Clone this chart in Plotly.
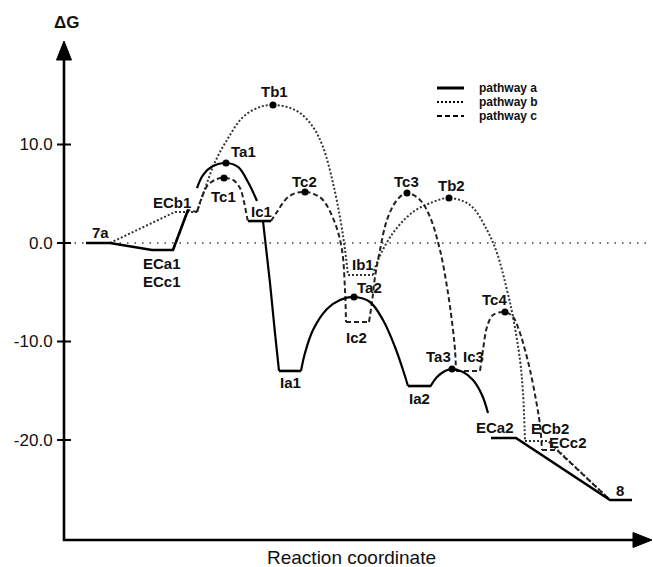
import plotly.graph_objects as go

# ---------------- data (reaction coordinate position, ΔG) ----------------
# pathway a (solid): straight parts and curved parts (None = break)
A_LIN_X = [86, 110, 152, 173, 188, None, 248, 271, None, 279, 301, None, 408, 430, None, 491, 516, 610, 632]
A_LIN_G = [0, 0, -0.71, -0.71, 3.35, None, 2.23, 2.23, None, -12.99, -12.99, None, -14.52, -14.52, None, -19.80, -19.80, -26.09, -26.09]
A_CURVE_X = [197, 203, 213, 226, 238, 248, 257, None,
             263, 270, 275, 279, None,
             301, 305, 313, 327, 340, 354, 370, 383, 395, 403, 408, None,
             430, 437, 445, 452, 463, 473, 482, 488]
A_CURVE_G = [5.58, 6.90, 7.82, 8.12, 7.72, 6.19, 4.26, None,
             2.23, -4.06, -9.14, -12.99, None,
             -12.99, -11.17, -8.83, -6.70, -5.79, -5.48, -5.99, -7.82, -10.56, -12.89, -14.52, None,
             -14.62, -13.60, -12.99, -12.79, -13.10, -13.91, -15.43, -17.26]

# pathway b (dotted)
B_LIN_X = [110, 175, 197, None, 348, 373, None, 525, 548, 610]
B_LIN_G = [0, 3.15, 3.15, None, -3.25, -3.25, None, -20.10, -20.10, -26.09]
B_CURVE_X = [197, 201, 207, 215, 227, 243, 260, 273, 287, 300, 313, 323, 333, 341, 345, 348, None,
             373, 378, 393, 413, 433, 449, 470, 487, 497, 507, 513, 520, 523, 525]
B_CURVE_G = [3.15, 4.37, 6.09, 8.22, 10.46, 12.79, 13.81, 14.01, 13.81, 13.20, 11.78, 9.75, 6.09, 2.03, -0.71, -3.25, None,
             -3.25, -1.73, 1.02, 3.15, 4.16, 4.57, 3.86, 1.32, -1.02, -4.77, -7.51, -11.88, -15.23, -20.10]

# pathway c (dashed)
C_LIN_X = [173, 188, 197, None, 248, 271, None, 346, 369, None, 456, 480, None, 542, 557, 610]
C_LIN_G = [-0.71, 3.35, 3.15, None, 2.23, 2.23, None, -8.02, -8.02, None, -12.99, -12.99, None, -21.02, -21.02, -26.09]
C_CURVE_X = [197, 202, 208, 217, 224, 233, 240, 244, 247, 248, None,
             271, 277, 287, 296, 305, 314, 323, 335, 342, 345, 346, None,
             369, 372, 375, 380, 387, 397, 407, 420, 430, 440, 448, 453, 455, 456, None,
             480, 483, 487, 493, 505, 513, 520, 525, 530, 536, 540, 542]
C_CURVE_G = [3.15, 4.67, 5.89, 6.50, 6.60, 6.40, 5.58, 4.16, 2.64, 2.13, None,
             2.23, 3.15, 4.57, 5.08, 5.18, 4.97, 4.37, 2.03, -0.71, -4.77, -8.02, None,
             -8.02, -5.99, -3.45, -0.71, 2.34, 4.37, 5.08, 4.37, 2.64, -0.71, -5.08, -8.83, -10.86, -12.99, None,
             -12.99, -10.86, -8.53, -7.31, -7.01, -7.51, -9.14, -10.86, -12.89, -15.94, -18.48, -21.02]

# transition states (dots)
TS_X = [226, 273, 224, 305, 354, 407, 449, 452, 505]
TS_G = [8.12, 14.01, 6.60, 5.18, -5.48, 5.08, 4.57, -12.79, -7.01]

# state labels
LABEL_TEXT = ["7a", "ECa1", "ECc1", "ECb1", "Tb1", "Ta1", "Tc1", "Ic1", "Tc2", "Ia1", "Ib1", "Ta2",
              "Ic2", "Tc3", "Tb2", "Ta3", "Ic3", "Ia2", "Tc4", "ECa2", "ECb2", "ECc2", "8"]
LABEL_X = [100, 162, 162, 172, 274, 243, 223, 261, 304, 290, 363, 369,
           356, 406, 451, 438, 473, 419, 494, 495, 550, 568, 620]
LABEL_G = [1.02, -2.03, -3.86, 4.16, 15.43, 9.34, 4.77, 3.15, 6.29, -14.21, -2.23, -4.47,
           -9.64, 6.29, 5.79, -11.57, -11.57, -15.74, -5.69, -18.78, -18.88, -20.30, -25.08]

Y_TICKS = [10, 0, -10, -20]
Y_TICK_TEXT = ["10.0", "0.0", "-10.0", "-20.0"]
LEGEND_TEXT = ["pathway a", "pathway b", "pathway c"]

# ---------------- layout helpers ----------------
W, H = 653, 567
ML, MR, MT, MB = 64, 2, 42, 27
PW, PH = W - ML - MR, H - MT - MB


def px(x):
    return (x - ML) / PW


def py(y):
    return (H - MB - y) / PH


FONT = "Liberation Sans, Arial, sans-serif"
DOT = "2px,2px"
DASH = "5px,3px"

fig = go.Figure()

fig.add_trace(go.Scatter(x=B_LIN_X, y=B_LIN_G, mode="lines", connectgaps=False,
                         line=dict(color="#333", width=2, dash=DOT), hoverinfo="skip"))
fig.add_trace(go.Scatter(x=B_CURVE_X, y=B_CURVE_G, mode="lines", connectgaps=False,
                         line=dict(color="#333", width=2, dash=DOT, shape="spline"), hoverinfo="skip"))
fig.add_trace(go.Scatter(x=C_LIN_X, y=C_LIN_G, mode="lines", connectgaps=False,
                         line=dict(color="#222", width=2, dash=DASH), hoverinfo="skip"))
fig.add_trace(go.Scatter(x=C_CURVE_X, y=C_CURVE_G, mode="lines", connectgaps=False,
                         line=dict(color="#222", width=2, dash=DASH, shape="spline"), hoverinfo="skip"))
fig.add_trace(go.Scatter(x=A_LIN_X, y=A_LIN_G, mode="lines", connectgaps=False,
                         line=dict(color="black", width=2.6), hoverinfo="skip"))
fig.add_trace(go.Scatter(x=A_CURVE_X, y=A_CURVE_G, mode="lines", connectgaps=False,
                         line=dict(color="black", width=2.2, shape="spline"), hoverinfo="skip"))
fig.add_trace(go.Scatter(x=TS_X, y=TS_G, mode="markers",
                         marker=dict(color="black", size=7), hoverinfo="skip"))

annotations = []
for t, x, g in zip(LABEL_TEXT, LABEL_X, LABEL_G):
    annotations.append(dict(x=x, y=g, xref="x", yref="y", text="<b>%s</b>" % t, showarrow=False,
                            font=dict(family=FONT, size=15, color="#111"), xanchor="center", yanchor="middle"))

annotations.append(dict(x=px(66), y=py(23), xref="paper", yref="paper", text="<b>ΔG</b>", showarrow=False,
                        font=dict(family=FONT, size=17, color="#111"), xanchor="center", yanchor="middle"))
annotations.append(dict(x=px(351), y=py(557), xref="paper", yref="paper", text="Reaction coordinate",
                        showarrow=False, font=dict(family=FONT, size=19, color="#111"),
                        xanchor="center", yanchor="middle"))

legend_y = [88, 102, 116]
legend_dash = ["solid", DOT, DASH]
legend_w = [3, 2, 2]
shapes = []
for t, yy, d, lw in zip(LEGEND_TEXT, legend_y, legend_dash, legend_w):
    annotations.append(dict(x=px(477), y=py(yy), xref="paper", yref="paper", text="<b>%s</b>" % t,
                            showarrow=False, font=dict(family=FONT, size=12, color="#111"),
                            xanchor="left", yanchor="middle"))
    shapes.append(dict(type="line", xref="paper", yref="paper", x0=px(437), x1=px(464), y0=py(yy), y1=py(yy),
                       line=dict(color="black", width=lw, dash=d)))

# zero reference line
shapes.append(dict(type="line", xref="paper", yref="y", x0=px(67), x1=px(651), y0=0, y1=0,
                   line=dict(color="#444", width=1.3, dash="1.5px,6px"), layer="below"))
# axes with arrows
shapes.append(dict(type="line", xref="paper", yref="paper", x0=px(64), x1=px(64), y0=py(541), y1=py(58),
                   line=dict(color="black", width=2.6)))
shapes.append(dict(type="path", xref="paper", yref="paper",
                   path="M %f,%f L %f,%f L %f,%f Z" % (px(64), py(41), px(56.5), py(60), px(71.5), py(60)),
                   fillcolor="black", line=dict(color="black", width=1)))
shapes.append(dict(type="line", xref="paper", yref="paper", x0=px(63), x1=px(636), y0=py(540), y1=py(540),
                   line=dict(color="black", width=2.6)))
shapes.append(dict(type="path", xref="paper", yref="paper",
                   path="M %f,%f L %f,%f L %f,%f Z" % (px(652), py(540), px(633), py(532.5), px(633), py(547.5)),
                   fillcolor="black", line=dict(color="black", width=1)))
# tick crosses
for g in Y_TICKS:
    shapes.append(dict(type="line", xref="paper", yref="y", x0=px(57), x1=px(71), y0=g, y1=g,
                       line=dict(color="black", width=2)))

Y_TOP = 20.406
Y_BOT = -30.152

fig.update_layout(
    width=W, height=H, margin=dict(l=ML, r=MR, t=MT, b=MB),
    paper_bgcolor="white", plot_bgcolor="white", showlegend=False,
    xaxis=dict(range=[ML, W - MR], visible=False, fixedrange=True),
    yaxis=dict(range=[Y_BOT, Y_TOP], tickvals=Y_TICKS, ticktext=Y_TICK_TEXT, ticks="outside", ticklen=7,
               tickcolor="rgba(0,0,0,0)", showgrid=False, zeroline=False, showline=False,
               tickfont=dict(family=FONT, size=17, color="#111"), fixedrange=True),
    annotations=annotations, shapes=shapes,
)

fig.write_html("out.html", config={"staticPlot": True},
               post_script="document.body.style.margin='0';document.body.style.overflow='hidden';")
